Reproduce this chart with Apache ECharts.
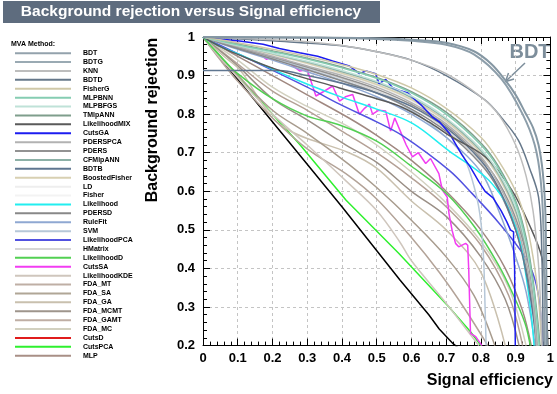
<!DOCTYPE html>
<html><head><meta charset="utf-8">
<script src="https://cdn.jsdelivr.net/npm/echarts@6/dist/echarts.min.js"></script>
<style>html,body{margin:0;padding:0;background:#fff}#c{width:557px;height:394px}</style>
</head><body><div id="c"></div>
<script>
// ---------- data ----------
const methods = ['BDT','BDTG','KNN','BDTD','FisherG','MLPBNN','MLPBFGS','TMlpANN','LikelihoodMIX','CutsGA',
  'PDERSPCA','PDERS','CFMlpANN','BDTB','BoostedFisher','LD','Fisher','Likelihood','PDERSD','RuleFit','SVM',
  'LikelihoodPCA','HMatrix','LikelihoodD','CutsSA','LikelihoodKDE','FDA_MT','FDA_SA','FDA_GA','FDA_MCMT',
  'FDA_GAMT','FDA_MC','CutsD','CutsPCA','MLP'];
const noisyMethods = ['CutsGA','CutsSA','CutsD','CutsPCA'];
const xRange = [0, 1];
const yRange = [0.2, 1];
const tickStep = 0.1;

const BDT = [[0,1],[0.3,0.999],[0.5,0.997],[0.6,0.993],[0.7,0.985],[0.78,0.963],[0.83,0.93],[0.87,0.888],[0.9,0.85],[0.927,0.805],[0.95,0.765],[0.966,0.72],[0.978,0.65],[0.985,0.56],[0.988,0.42],[0.99,0.2]];
const BDTG = [[0,1],[0.3,0.998],[0.5,0.995],[0.6,0.99],[0.7,0.98],[0.78,0.955],[0.86,0.89],[0.92,0.8],[0.955,0.72],[0.972,0.63],[0.98,0.5],[0.984,0.2]];
const KNN = [[0,1],[0.2,0.993],[0.3,0.988],[0.4,0.978],[0.5,0.962],[0.6,0.94],[0.7,0.905],[0.8,0.845],[0.85,0.8],[0.9,0.72],[0.93,0.64],[0.95,0.55],[0.965,0.42],[0.972,0.3],[0.976,0.2]];
const BDTD = [[0,1],[0.2,0.99],[0.393,0.978],[0.5,0.962],[0.6,0.94],[0.7,0.9],[0.813,0.836],[0.86,0.79],[0.908,0.732],[0.94,0.66],[0.966,0.585],[0.975,0.45],[0.979,0.2]];
const FisherG = [[0,1],[0.1,0.985],[0.2,0.968],[0.3,0.95],[0.393,0.93],[0.5,0.903],[0.6,0.868],[0.7,0.815],[0.8,0.74],[0.85,0.68],[0.9,0.6],[0.93,0.52],[0.95,0.43],[0.965,0.33],[0.975,0.2]];
const MLPBNN = [[0,1],[0.1,0.98],[0.2,0.962],[0.3,0.943],[0.4,0.92],[0.5,0.893],[0.6,0.855],[0.7,0.8],[0.8,0.72],[0.85,0.66],[0.9,0.57],[0.93,0.47],[0.95,0.36],[0.962,0.26],[0.968,0.2]];
const MLPBFGS = [[0,1],[0.1,0.978],[0.2,0.958],[0.3,0.937],[0.4,0.913],[0.5,0.885],[0.6,0.847],[0.7,0.79],[0.8,0.71],[0.85,0.65],[0.9,0.56],[0.93,0.46],[0.95,0.35],[0.96,0.27],[0.966,0.2]];
const TMlpANN = [[0,1],[0.1,0.982],[0.2,0.964],[0.3,0.945],[0.4,0.922],[0.5,0.895],[0.6,0.858],[0.7,0.805],[0.8,0.725],[0.85,0.665],[0.9,0.575],[0.93,0.48],[0.95,0.37],[0.963,0.27],[0.97,0.2]];
const LikelihoodMIX = [[0,1],[0.05,0.975],[0.1,0.955],[0.211,0.916],[0.393,0.868],[0.5,0.84],[0.573,0.818],[0.65,0.78],[0.708,0.745],[0.813,0.689],[0.889,0.603],[0.946,0.5],[0.975,0.43],[0.985,0.36],[0.99,0.27],[0.993,0.2]];
const CutsGA = [[0,1],[0.05,0.995],[0.1,0.99],[0.173,0.981],[0.22,0.97],[0.278,0.959],[0.33,0.95],[0.373,0.938],[0.421,0.925],[0.45,0.905],[0.469,0.912],[0.497,0.905],[0.507,0.879],[0.526,0.89],[0.545,0.869],[0.564,0.862],[0.59,0.855],[0.612,0.836],[0.63,0.822],[0.66,0.793],[0.68,0.78],[0.708,0.752],[0.745,0.695],[0.77,0.662],[0.794,0.625],[0.812,0.6],[0.835,0.583],[0.858,0.55],[0.875,0.52],[0.885,0.5],[0.894,0.495],[0.894,0.456],[0.897,0.4],[0.899,0.2]];
const PDERSPCA = [[0,1],[0.1,0.975],[0.2,0.95],[0.3,0.925],[0.4,0.9],[0.5,0.87],[0.6,0.83],[0.7,0.775],[0.8,0.69],[0.85,0.62],[0.9,0.52],[0.93,0.42],[0.95,0.31],[0.96,0.2]];
const PDERS = [[0,1],[0.1,0.973],[0.2,0.948],[0.3,0.922],[0.4,0.895],[0.5,0.865],[0.6,0.825],[0.7,0.77],[0.8,0.685],[0.85,0.625],[0.9,0.53],[0.935,0.42],[0.955,0.3],[0.965,0.2]];
const CFMlpANN = [[0,1],[0.1,0.978],[0.2,0.957],[0.3,0.935],[0.4,0.91],[0.5,0.882],[0.6,0.843],[0.7,0.787],[0.8,0.705],[0.85,0.645],[0.9,0.55],[0.93,0.45],[0.95,0.34],[0.962,0.2]];
const BDTB = [[0,0.913],[0.1,0.913],[0.22,0.913],[0.3,0.9],[0.4,0.88],[0.5,0.855],[0.6,0.82],[0.7,0.765],[0.8,0.68],[0.85,0.61],[0.9,0.5],[0.93,0.39],[0.95,0.28],[0.96,0.2]];
const BoostedFisher = [[0,1],[0.1,0.977],[0.2,0.955],[0.3,0.932],[0.4,0.906],[0.5,0.877],[0.6,0.838],[0.7,0.782],[0.8,0.7],[0.85,0.64],[0.9,0.545],[0.93,0.45],[0.95,0.34],[0.963,0.2]];
const LD = [[0,1],[0.1,0.976],[0.2,0.953],[0.3,0.93],[0.4,0.903],[0.5,0.874],[0.6,0.835],[0.7,0.78],[0.8,0.697],[0.85,0.637],[0.9,0.54],[0.93,0.445],[0.95,0.335],[0.962,0.2]];
const Fisher = [[0,1],[0.1,0.976],[0.2,0.954],[0.3,0.931],[0.4,0.904],[0.5,0.875],[0.6,0.836],[0.7,0.781],[0.8,0.698],[0.85,0.638],[0.9,0.542],[0.93,0.447],[0.95,0.337],[0.962,0.2]];
const Likelihood = [[0,1],[0.05,0.975],[0.1,0.957],[0.278,0.886],[0.393,0.846],[0.5,0.813],[0.603,0.776],[0.708,0.705],[0.813,0.637],[0.861,0.586],[0.88,0.555],[0.91,0.48],[0.93,0.38],[0.945,0.28],[0.953,0.2]];
const PDERSD = [[0,1],[0.1,0.97],[0.2,0.943],[0.3,0.915],[0.4,0.886],[0.5,0.855],[0.6,0.813],[0.7,0.755],[0.8,0.67],[0.85,0.605],[0.9,0.5],[0.93,0.4],[0.95,0.29],[0.96,0.2]];
const RuleFit = [[0,1],[0.1,0.968],[0.2,0.94],[0.3,0.91],[0.4,0.88],[0.5,0.845],[0.6,0.8],[0.7,0.74],[0.8,0.65],[0.851,0.55],[0.9,0.43],[0.93,0.34],[0.956,0.2]];
const SVM = [[0,1],[0.1,0.97],[0.2,0.945],[0.3,0.917],[0.4,0.888],[0.5,0.855],[0.6,0.81],[0.7,0.74],[0.75,0.69],[0.784,0.6],[0.8,0.52],[0.808,0.42],[0.812,0.3],[0.815,0.2]];
const LikelihoodPCA = [[0,1],[0.1,0.957],[0.3,0.87],[0.393,0.826],[0.5,0.78],[0.573,0.745],[0.708,0.655],[0.775,0.594],[0.85,0.52],[0.927,0.43],[0.956,0.37],[0.97,0.3],[0.978,0.2]];
const HMatrix = [[0,1],[0.1,0.972],[0.2,0.946],[0.3,0.92],[0.4,0.892],[0.5,0.86],[0.6,0.82],[0.7,0.76],[0.8,0.675],[0.85,0.61],[0.9,0.51],[0.93,0.41],[0.95,0.3],[0.96,0.2]];
const LikelihoodD = [[0,1],[0.05,0.95],[0.1,0.905],[0.2,0.84],[0.3,0.795],[0.393,0.772],[0.5,0.73],[0.6,0.665],[0.7,0.595],[0.784,0.505],[0.85,0.41],[0.889,0.34],[0.927,0.258],[0.942,0.2]];
const CutsSA = [[0,1],[0.05,0.995],[0.1,0.985],[0.115,0.975],[0.15,0.965],[0.183,0.942],[0.21,0.955],[0.24,0.94],[0.259,0.925],[0.278,0.912],[0.3,0.915],[0.325,0.847],[0.35,0.86],[0.373,0.873],[0.393,0.834],[0.41,0.845],[0.431,0.851],[0.45,0.8],[0.465,0.815],[0.479,0.826],[0.488,0.8],[0.505,0.81],[0.526,0.808],[0.54,0.756],[0.552,0.79],[0.567,0.758],[0.585,0.72],[0.603,0.689],[0.62,0.7],[0.641,0.672],[0.655,0.685],[0.679,0.646],[0.689,0.603],[0.703,0.585],[0.708,0.543],[0.717,0.499],[0.727,0.465],[0.736,0.456],[0.756,0.465],[0.762,0.46],[0.765,0.396],[0.77,0.232],[0.785,0.223],[0.803,0.2]];
const LikelihoodKDE = [[0,1],[0.05,0.945],[0.1,0.895],[0.2,0.8],[0.3,0.72],[0.42,0.62],[0.5,0.55],[0.567,0.468],[0.6,0.42],[0.7,0.31],[0.794,0.2]];
const FDA_MT = [[0,1],[0.05,0.94],[0.1,0.885],[0.2,0.79],[0.3,0.71],[0.42,0.64],[0.5,0.58],[0.6,0.48],[0.68,0.39],[0.75,0.3],[0.82,0.2]];
const FDA_SA = [[0,1],[0.05,0.945],[0.1,0.9],[0.2,0.81],[0.3,0.75],[0.42,0.67],[0.5,0.61],[0.6,0.525],[0.7,0.43],[0.78,0.33],[0.84,0.2]];
const FDA_GA = [[0,1],[0.06,0.95],[0.106,0.915],[0.154,0.85],[0.2,0.79],[0.25,0.757],[0.3,0.737],[0.42,0.7],[0.5,0.66],[0.6,0.575],[0.7,0.5],[0.8,0.39],[0.87,0.2]];
const FDA_MCMT = [[0,1],[0.1,0.925],[0.2,0.84],[0.3,0.785],[0.42,0.715],[0.5,0.675],[0.6,0.6],[0.7,0.535],[0.8,0.43],[0.87,0.32],[0.91,0.2]];
const FDA_GAMT = [[0,1],[0.1,0.93],[0.2,0.86],[0.3,0.81],[0.42,0.745],[0.5,0.7],[0.6,0.635],[0.7,0.56],[0.8,0.46],[0.88,0.33],[0.92,0.2]];
const FDA_MC = [[0,1],[0.1,0.94],[0.2,0.87],[0.3,0.82],[0.42,0.767],[0.5,0.72],[0.6,0.65],[0.7,0.57],[0.8,0.47],[0.88,0.35],[0.93,0.2]];
const CutsD = [[0,1],[0.1,0.89],[0.25,0.725],[0.4,0.56],[0.567,0.37],[0.65,0.28],[0.68,0.243],[0.72,0.205],[0.74,0.19]];
const CutsPCA = [[0,1],[0.1,0.9],[0.278,0.722],[0.412,0.577],[0.564,0.439],[0.708,0.3],[0.77,0.236],[0.8,0.2]];
const MLP = [[0,1],[0.1,0.95],[0.2,0.9],[0.3,0.85],[0.42,0.79],[0.5,0.745],[0.6,0.68],[0.7,0.6],[0.8,0.5],[0.87,0.4],[0.92,0.29],[0.945,0.2]];

const curves = {BDT,BDTG,KNN,BDTD,FisherG,MLPBNN,MLPBFGS,TMlpANN,LikelihoodMIX,CutsGA,PDERSPCA,PDERS,CFMlpANN,BDTB,
  BoostedFisher,LD,Fisher,Likelihood,PDERSD,RuleFit,SVM,LikelihoodPCA,HMatrix,LikelihoodD,CutsSA,LikelihoodKDE,
  FDA_MT,FDA_SA,FDA_GA,FDA_MCMT,FDA_GAMT,FDA_MC,CutsD,CutsPCA,MLP};

// ---------- styles ----------
const legendColors = {BDT:'#93a2ac',BDTG:'#9aaab3',KNN:'#bdbdbd',BDTD:'#66788a',FisherG:'#cfc8a8',MLPBNN:'#86cdb2',
  MLPBFGS:'#bfe2d8',TMlpANN:'#7f9e8c',LikelihoodMIX:'#5a5a5a',CutsGA:'#1c1cf0',PDERSPCA:'#b2b2b2',PDERS:'#929292',
  CFMlpANN:'#8cb0a6',BDTB:'#5f7690',BoostedFisher:'#d8d0b2',LD:'#eeeeee',Fisher:'#f3f3f3',Likelihood:'#22eef0',
  PDERSD:'#888888',RuleFit:'#8fa8d2',SVM:'#b6c7d8',LikelihoodPCA:'#5252e0',HMatrix:'#d6d6d6',LikelihoodD:'#52d052',
  CutsSA:'#f23cf2',LikelihoodKDE:'#cfc6bd',FDA_MT:'#bfafa5',FDA_SA:'#b0a696',FDA_GA:'#c9c0ae',FDA_MCMT:'#9e958c',
  FDA_GAMT:'#bfaea4',FDA_MC:'#d2d0bf',CutsD:'#e01c1c',CutsPCA:'#2ef02e',MLP:'#a88f86'};
const plotColors = Object.assign({}, legendColors, {BDT:'#8597a3', BDTG:'#8d9eaa', CutsD:'#000000',
  FDA_MT:'#b3a398', FDA_SA:'#a89c8e', FDA_MCMT:'#9a8f86', FDA_GAMT:'#b4a196', MLP:'#a08880'});
const FONT = '"Liberation Sans", Arial, Helvetica, sans-serif';

const series = methods.slice().reverse().map(function (m) {
  const noisy = noisyMethods.indexOf(m) >= 0;
  return {
    name: m, type: 'line', data: curves[m], showSymbol: false, symbol: 'none',
    smooth: noisy ? false : 0.35, clip: true,
    lineStyle: {color: plotColors[m], width: (m === 'BDT' || m === 'BDTG') ? 2 : 1.5},
    itemStyle: {color: plotColors[m]}, silent: true
  };
});

const axisCommon = {
  type: 'value',
  axisLine: {show: true, onZero: false, lineStyle: {color: '#000', width: 1}},
  axisTick: {show: true, inside: true, length: 7, lineStyle: {color: '#000'}},
  minorTick: {show: true, splitNumber: 5, length: 4, lineStyle: {color: '#000'}},
};

const chart = echarts.init(document.getElementById('c'), null, {renderer: 'canvas'});
chart.setOption({
  animation: false,
  backgroundColor: '#fff',
  grid: {left: 203, top: 37, right: 4, bottom: 48.4, containLabel: false},
  xAxis: [
    Object.assign({}, axisCommon, {position: 'bottom', min: xRange[0], max: xRange[1], interval: tickStep,
      axisLabel: {show: true, margin: 6, color: '#000', fontSize: 13, fontWeight: 'bold', fontFamily: FONT},
      splitLine: {show: true, lineStyle: {color: '#c4c4c4', type: [3, 3], width: 1}}}),
    Object.assign({}, axisCommon, {position: 'top', min: xRange[0], max: xRange[1], interval: tickStep,
      axisLabel: {show: false}, splitLine: {show: false}})
  ],
  yAxis: [
    Object.assign({}, axisCommon, {position: 'left', min: yRange[0], max: yRange[1], interval: tickStep,
      axisLabel: {show: true, margin: 8, color: '#000', fontSize: 13, fontWeight: 'bold', fontFamily: FONT},
      splitLine: {show: true, lineStyle: {color: '#c4c4c4', type: [3, 3], width: 1}}}),
    Object.assign({}, axisCommon, {position: 'right', min: yRange[0], max: yRange[1], interval: tickStep,
      axisLabel: {show: false}, splitLine: {show: false}})
  ],
  legend: {
    orient: 'vertical', left: 15, top: 48.8, itemWidth: 56, itemHeight: 2, itemGap: 0.2,
    icon: 'rect', selectedMode: false, padding: 0,
    textStyle: {fontSize: 7, fontWeight: 'bold', fontFamily: FONT, color: '#000', lineHeight: 8.7, padding: [0, 0, 0, 7]},
    data: methods.map(function (m) { return {name: m, itemStyle: {color: legendColors[m]}}; })
  },
  graphic: [
    {type: 'rect', shape: {x: 3, y: 1, width: 377, height: 22}, style: {fill: '#5e6c7e'}, silent: true},
    {type: 'text', x: 191, y: 12, style: {text: 'Background rejection versus Signal efficiency', fill: '#fff',
      font: 'bold 15.5px ' + FONT, textAlign: 'center', textVerticalAlign: 'middle'}, silent: true},
    {type: 'text', x: 11, y: 44, style: {text: 'MVA Method:', fill: '#000', font: 'bold 7px ' + FONT,
      textAlign: 'left', textVerticalAlign: 'middle'}, silent: true},
    {type: 'text', x: 153, y: 120, rotation: Math.PI / 2, style: {text: 'Background rejection', fill: '#000',
      font: 'bold 16px ' + FONT, textAlign: 'center', textVerticalAlign: 'middle'}, silent: true},
    {type: 'text', x: 553, y: 381, style: {text: 'Signal efficiency', fill: '#000',
      font: 'bold 16px ' + FONT, textAlign: 'right', textVerticalAlign: 'middle'}, silent: true},
    {type: 'text', x: 530, y: 52, style: {text: 'BDT', fill: '#7d8e9b',
      font: 'bold 20px ' + FONT, textAlign: 'center', textVerticalAlign: 'middle'}, silent: true},
    {type: 'line', shape: {x1: 525, y1: 63, x2: 506, y2: 81}, style: {stroke: '#7d8e9b', lineWidth: 1.5}, silent: true},
    {type: 'polyline', shape: {points: [[508.5, 73], [505.5, 81.5], [514, 79]]}, style: {stroke: '#7d8e9b', lineWidth: 1.5, fill: null}, silent: true}
  ],
  series: series
});
</script></body></html>
